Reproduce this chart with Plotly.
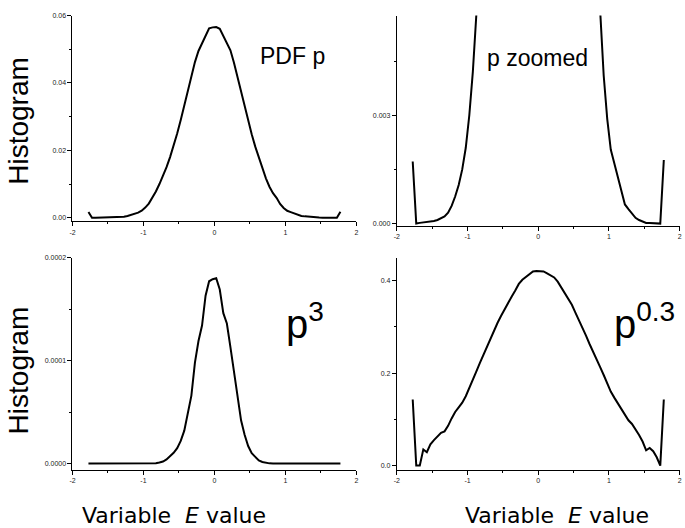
import plotly.graph_objects as go

W, H = 685, 528

# ---- data ----
x_values = [-1.775, -1.725, -1.675, -1.625, -1.575, -1.525, -1.475, -1.425, -1.375, -1.325,
            -1.275, -1.225, -1.175, -1.125, -1.075, -1.025, -0.975, -0.925, -0.875, -0.825,
            -0.775, -0.725, -0.675, -0.625, -0.575, -0.525, -0.475, -0.425, -0.375, -0.325,
            -0.275, -0.225, -0.175, -0.125, -0.075, -0.025, 0.025, 0.075, 0.125, 0.175,
            0.225, 0.275, 0.325, 0.375, 0.425, 0.475, 0.525, 0.575, 0.625, 0.675,
            0.725, 0.775, 0.825, 0.875, 0.925, 0.975, 1.025, 1.075, 1.125, 1.175,
            1.225, 1.275, 1.325, 1.375, 1.425, 1.475, 1.525, 1.575, 1.625, 1.675,
            1.725, 1.775]

p_values = [0.00172, 0.0, 0.00002, 0.00003, 0.00003, 0.00004, 0.00007, 0.00010, 0.00016, 0.00020,
            0.00030, 0.00049, 0.00075, 0.00107, 0.00150, 0.00210, 0.00300, 0.00420, 0.00580, 0.00780,
            0.01000, 0.01240, 0.01500, 0.01800, 0.02130, 0.02500, 0.02900, 0.03340, 0.03780, 0.04200,
            0.04620, 0.04950, 0.05170, 0.05420, 0.05620, 0.05650, 0.05660, 0.05610, 0.05400, 0.05200,
            0.04970, 0.04600, 0.04160, 0.03720, 0.03320, 0.02900, 0.02480, 0.02110, 0.01780, 0.01450,
            0.01170, 0.00920, 0.00730, 0.00590, 0.00410, 0.00290, 0.00205, 0.00167, 0.00127, 0.00090,
            0.00053, 0.00040, 0.00027, 0.00016, 0.00010, 0.00005, 0.00002, 0.00002, 0.00002, 0.00001,
            0.0, 0.00176]

p_cubed_values = [0, 0, 0, 0, 0, 0, 0, 0, 0, 0,
                  0, 0, 0, 0, 0, 0, 0, 0, 0, 0.0000003,
                  0.0000010, 0.0000020, 0.0000040, 0.0000070, 0.0000105, 0.0000150, 0.0000220, 0.0000320, 0.0000480, 0.0000660,
                  0.0000980, 0.0001190, 0.0001340, 0.0001630, 0.0001770, 0.0001790, 0.0001800, 0.0001690, 0.0001460, 0.0001360,
                  0.0001130, 0.0000880, 0.0000620, 0.0000420, 0.0000280, 0.0000170, 0.0000100, 0.0000060, 0.0000030, 0.0000015,
                  0.0000006, 0.0000002, 0, 0, 0, 0, 0, 0, 0, 0,
                  0, 0, 0, 0, 0, 0, 0, 0, 0, 0,
                  0, 0]

p_03_values = [0.143, 0.0, 0.0, 0.035, 0.029, 0.046, 0.055, 0.063, 0.071, 0.074,
               0.086, 0.102, 0.116, 0.126, 0.136, 0.150, 0.167, 0.185, 0.204, 0.222,
               0.240, 0.257, 0.275, 0.293, 0.309, 0.324, 0.339, 0.353, 0.366, 0.379,
               0.393, 0.402, 0.408, 0.414, 0.420, 0.421, 0.421, 0.420, 0.416, 0.412,
               0.407, 0.398, 0.386, 0.374, 0.362, 0.348, 0.331, 0.315, 0.299, 0.281,
               0.263, 0.245, 0.228, 0.213, 0.196, 0.178, 0.160, 0.147, 0.135, 0.122,
               0.109, 0.098, 0.090, 0.079, 0.066, 0.052, 0.033, 0.038, 0.031, 0.018,
               0.0, 0.143]

x_tick_vals = [-2, -1, 0, 1, 2]
x_tick_text = ["-2", "-1", "0", "1", "2"]
x_minor_vals = [-1.5, -0.5, 0.5, 1.5]

y1_tick_vals = [0, 0.02, 0.04, 0.06]
y1_tick_text = ["0.00", "0.02", "0.04", "0.06"]
y1_minor_vals = [0.01, 0.03, 0.05]

y2_tick_vals = [0, 0.003]
y2_tick_text = ["0.000", "0.003"]
y2_minor_vals = [0.0015, 0.0045]

y3_tick_vals = [0, 0.0001, 0.0002]
y3_tick_text = ["0.0000", "0.0001", "0.0002"]
y3_minor_vals = [0.00005, 0.00015]

y4_tick_vals = [0, 0.2, 0.4]
y4_tick_text = ["0.0", "0.2", "0.4"]
y4_minor_vals = [0.1, 0.3]

# ---- figure ----
fig = go.Figure()
line_style = dict(color="black", width=2)
series = [(p_values, "x", "y"), (p_values, "x2", "y2"),
          (p_cubed_values, "x3", "y3"), (p_03_values, "x4", "y4")]
for vals, xa, ya in series:
    fig.add_trace(go.Scatter(x=x_values, y=vals, xaxis=xa, yaxis=ya, mode="lines",
                             line=line_style, showlegend=False, hoverinfo="skip"))

tick_font = dict(family="Liberation Sans, Arial, sans-serif", size=7, color="#222222")


def px_x(v):
    return v / W


def px_y(v):
    return 1 - v / H


def x_axis(x0, x1, y_anchor):
    return dict(domain=[px_x(x0), px_x(x1)], anchor=y_anchor, range=[-2, 2],
                tickmode="array", tickvals=x_tick_vals, ticktext=x_tick_text,
                ticks="outside", ticklen=4, tickwidth=1, tickcolor="black",
                showline=True, linecolor="black", linewidth=1,
                showgrid=False, zeroline=False, tickfont=tick_font,
                minor=dict(tickmode="array", tickvals=x_minor_vals, ticks="outside",
                           ticklen=2, tickwidth=1, tickcolor="black", showgrid=False))


def y_axis(y_bottom, y_top, x_anchor, rng, tv, tt, mv):
    return dict(domain=[px_y(y_bottom), px_y(y_top)], anchor=x_anchor, range=rng,
                tickmode="array", tickvals=tv, ticktext=tt,
                ticks="outside", ticklen=4, tickwidth=1, tickcolor="black",
                showline=True, linecolor="black", linewidth=1,
                showgrid=False, zeroline=False, tickfont=tick_font,
                minor=dict(tickmode="array", tickvals=mv, ticks="outside",
                           ticklen=2, tickwidth=1, tickcolor="black", showgrid=False))


fig.update_layout(
    width=W, height=H,
    margin=dict(l=0, r=0, t=0, b=0),
    paper_bgcolor="white", plot_bgcolor="white",
    xaxis=x_axis(70, 356, "y"),
    yaxis=y_axis(219.5, 11.7, "x", [-0.0011, 0.06], y1_tick_vals, y1_tick_text, y1_minor_vals),
    xaxis2=x_axis(396.7, 681.7, "y2"),
    yaxis2=y_axis(224, 11.7, "x2", [-0.000063, 0.00576], y2_tick_vals, y2_tick_text, y2_minor_vals),
    xaxis3=x_axis(70, 356, "y3"),
    yaxis3=y_axis(470, 256, "x3", [-0.0000058, 0.0002], y3_tick_vals, y3_tick_text, y3_minor_vals),
    xaxis4=x_axis(396.7, 681.7, "y4"),
    yaxis4=y_axis(470, 256, "x4", [-0.0086, 0.45], y4_tick_vals, y4_tick_text, y4_minor_vals),
)

big_font = "Liberation Sans, Arial, sans-serif"
label_font = "DejaVu Sans, Verdana, sans-serif"


def ann(text, x, y, size, family, xanchor="center", yanchor="middle", angle=0):
    fig.add_annotation(text=text, x=px_x(x), y=px_y(y), xref="paper", yref="paper",
                       xanchor=xanchor, yanchor=yanchor, showarrow=False, textangle=angle,
                       font=dict(family=family, size=size, color="black"))


ann("PDF p", 292, 52, 23, big_font)
ann("p zoomed", 538, 55, 23, big_font)
ann("p<sup>3</sup>", 283, 320, 40, big_font, xanchor="left")
ann("p<sup>0.3</sup>", 613, 320, 40, big_font, xanchor="left")
ann("Histogram", 16, 118, 28, big_font, angle=-90)
ann("Histogram", 16, 370, 28, big_font, angle=-90)
ann("Variable  <i>E</i> value", 172, 516, 22, label_font)
ann("Variable  <i>E</i> value", 558, 516, 22, label_font)

fig.write_html("out.html")
